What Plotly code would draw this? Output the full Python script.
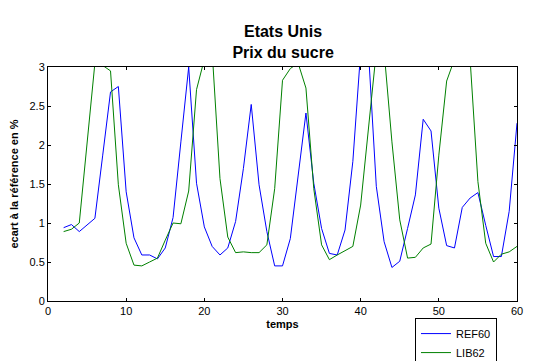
import plotly.graph_objects as go

# donnees
temps = list(range(2, 61))
ref60 = [0.94, 0.98, 0.89, 0.97, 1.06, 1.87, 2.68, 2.75, 1.40, 0.81,
         0.59, 0.59, 0.54, 0.68, 1.07, 2.04, 3.00, 1.51, 0.95, 0.70,
         0.59, 0.68, 1.02, 1.70, 2.52, 1.49, 0.89, 0.45, 0.45, 0.80,
         1.57, 2.41, 1.51, 0.93, 0.61, 0.59, 0.91, 1.79, 3.20, 3.20,
         1.47, 0.76, 0.43, 0.51, 0.93, 1.36, 2.33, 2.18, 1.19, 0.71,
         0.68, 1.20, 1.32, 1.39, 0.97, 0.57, 0.57, 1.15, 2.28]
lib62 = [0.89, 0.92, 1.00, 2.00, 3.05, 3.02, 2.95, 1.49, 0.74, 0.46,
         0.45, 0.50, 0.55, 0.78, 1.00, 0.99, 1.41, 2.71, 3.10, 3.20,
         1.57, 0.82, 0.62, 0.63, 0.62, 0.62, 0.72, 1.44, 2.83, 2.98,
         3.05, 2.73, 1.44, 0.72, 0.53, 0.59, 0.65, 0.70, 1.23, 2.21,
         3.20, 3.20, 2.04, 1.04, 0.55, 0.56, 0.68, 0.73, 1.87, 2.82,
         3.10, 3.20, 3.10, 1.53, 0.74, 0.50, 0.60, 0.63, 0.70]

fig = go.Figure()
fig.add_trace(go.Scatter(x=temps, y=ref60, mode="lines", name="REF60",
                         line=dict(color="#0000ff", width=1)))
fig.add_trace(go.Scatter(x=temps, y=lib62, mode="lines", name="LIB62",
                         line=dict(color="#008000", width=1)))

axe = dict(showgrid=False, zeroline=False, showline=True, mirror="ticks",
           linecolor="black", linewidth=1, ticks="inside", ticklen=3,
           tickcolor="black", tickfont=dict(size=11, color="black"),
           automargin=False)

fig.update_xaxes(range=[0, 60], dtick=10, title=dict(text="<b>temps</b>", font=dict(size=11), standoff=4), **axe)
fig.update_yaxes(range=[0, 3], dtick=0.5, title=dict(text="<b>ecart à la référence en %</b>", font=dict(size=11), standoff=11), **axe)

# la page a une marge de 8 px : la figure est decalee d'autant
fig.update_layout(
    width=526, height=353,
    title=dict(text="<b>Etats Unis<br>Prix du sucre</b>", x=0.523, xanchor="center",
               y=0.918, yanchor="top", font=dict(size=16, color="black")),
    font=dict(family="Arial, Liberation Sans", color="black"),
    paper_bgcolor="white", plot_bgcolor="white",
    margin=dict(l=40, r=17, t=59, b=60, autoexpand=False),
    legend=dict(x=0.7825, y=-0.073, xanchor="left", yanchor="top",
                bordercolor="black", borderwidth=1, font=dict(size=11),
                itemwidth=30, tracegroupgap=0),
    showlegend=True,
)

fig.write_html("out.html")
